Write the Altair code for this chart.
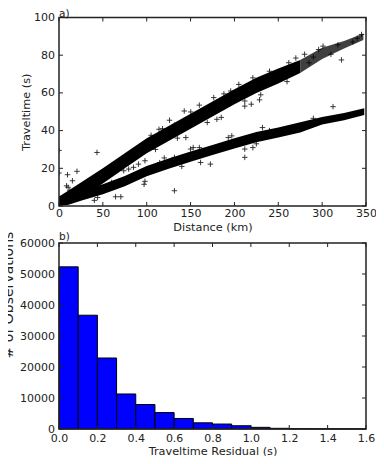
import altair as alt
import pandas as pd

FONT = "DejaVu Sans"
INK = "#222222"

# ---------------- panel a) : traveltime vs distance ----------------
# dense upper band (edges)
upper_dist = [0, 10, 25, 50, 75, 100, 125, 150, 175, 200, 225, 250, 275]
upper_lo = [0, 1, 4.5, 12, 20, 28, 34.5, 41, 47.5, 54, 60, 65, 70.5]
upper_hi = [5, 8, 12.5, 20, 28, 36, 42.5, 49, 55.5, 62, 68, 73, 77.5]
# sparser far end of the upper band
tail_dist = [275, 300, 325, 347]
tail_lo = [70.5, 78, 83.5, 88]
tail_hi = [77.5, 84, 87.5, 91.5]
# dense lower band
lower_dist = [0, 10, 25, 50, 75, 100, 125, 150, 175, 200, 225, 250, 275, 300, 325, 348]
lower_lo = [0, 0.5, 2.8, 6.2, 10.5, 15.8, 19.8, 23.5, 27, 30.5, 33.8, 36.3, 39, 43.2, 45.5, 48.3]
lower_hi = [4.4, 5.9, 8.2, 11.6, 15.9, 21.2, 25.2, 28.9, 32.4, 35.9, 39.2, 41.7, 44.4, 47.2, 49.3, 51.8]
# scattered individual picks (outliers and fuzzy band edges)
scatter_dist = [0, 0, 43.3, 9.7, 20.5, 15.3, 10.4, 12.3, 8.6, 64.5, 70.5, 40.3, 44,
                114, 98, 90.6, 85, 79.4, 73.8, 98, 114.8, 97, 131.6,
                142.8, 150.2, 126, 131.6, 144.6, 169, 180, 153, 150, 161.4, 172.6, 131.6,
                221, 211.8, 219.2, 211.8, 195.7, 176.4, 228.6,
                193, 197, 211.8, 211.8, 221, 232,
                312.4, 322, 301, 344.9, 310, 290, 285, 335, 340, 318, 296,
                105, 118, 160, 188, 205, 240, 262, 270, 280,
                110, 135, 185, 230, 260,
                120, 160, 240, 290, 60, 140, 225]
scatter_time = [29.5, 17.5, 28.4, 16.6, 18.4, 13.4, 9.9, 8.1, 10.7, 4.9, 4.9, 3.0, 4.5,
                40.7, 24, 22.2, 20.5, 19.6, 18.7, 13.1, 23, 11.5, 8.1,
                50.4, 49.9, 45.5, 42.9, 36.3, 44.3, 46, 31, 30.2, 23.1, 22.2, 25.8,
                68, 55.7, 54, 53, 61, 57.5, 56.3,
                36.3, 37.2, 30.2, 25.8, 31, 41.6,
                52.7, 77.5, 84.8, 91, 80.5, 79, 76, 87, 89, 85.5, 83,
                37.5, 41, 53.5, 59.5, 64.5, 71.5, 76, 78.5, 80.5,
                30, 36, 47, 59, 66,
                25.5, 31, 40, 46.5, 12.5, 21, 33]
xa_ticks = [0, 50, 100, 150, 200, 250, 300, 350]
ya_ticks = [0, 20, 40, 60, 80, 100]

# ---------------- panel b) : residual histogram ----------------
bin_start = [0.0, 0.1, 0.2, 0.3, 0.4, 0.5, 0.6, 0.7, 0.8, 0.9, 1.0, 1.1, 1.2, 1.3, 1.4, 1.5]
bin_end = [0.1, 0.2, 0.3, 0.4, 0.5, 0.6, 0.7, 0.8, 0.9, 1.0, 1.1, 1.2, 1.3, 1.4, 1.5, 1.6]
counts = [52300, 36700, 22900, 11300, 7900, 5300, 3400, 2000, 1600, 1050, 530, 220, 120, 70, 40, 20]
xb_ticks = [0.0, 0.2, 0.4, 0.6, 0.8, 1.0, 1.2, 1.4, 1.6]
yb_ticks = [0, 10000, 20000, 30000, 40000, 50000, 60000]

# ---------------- layout (pixels inside the drawing area) ----------------
W = 307
A_TOP, A_BOT = 0, 188.5
B_TOP, B_BOT = 225.5, 411.5
TOTAL_H = 438.5
TICK = 4

upper_df = pd.DataFrame({"d": upper_dist, "lo": upper_lo, "hi": upper_hi})
tail_df = pd.DataFrame({"d": tail_dist, "lo": tail_lo, "hi": tail_hi})
lower_df = pd.DataFrame({"d": lower_dist, "lo": lower_lo, "hi": lower_hi})
scat_df = pd.DataFrame({"d": scatter_dist, "t": scatter_time})
xa_df = pd.DataFrame({"d": xa_ticks})
ya_df = pd.DataFrame({"t": ya_ticks})
one = pd.DataFrame({"k": [0]})

axis_common = dict(domain=False, ticks=False, tickSize=0, grid=False,
                   labelFlush=False, labelBound=False, labelOverlap=False)

xa_axis = alt.Axis(values=xa_ticks, title="Distance (km)", orient="bottom",
                   offset=-(TOTAL_H - A_BOT), labelPadding=1.5,
                   titleY=24, titleBaseline="alphabetic", **axis_common)
ya_axis = alt.Axis(values=ya_ticks, title="Traveltime (s)", orient="left", labelPadding=4.5,
                   titleX=-28, titleY=(A_TOP + A_BOT) / 2, titleBaseline="bottom",
                   **axis_common)
xa_scale = alt.Scale(domain=[0, 350], nice=False, zero=False)
ya_scale = alt.Scale(domain=[0, 100], nice=False, zero=False, range=[A_BOT, A_TOP])


def xa(field="d"):
    return alt.X(f"{field}:Q", scale=xa_scale, axis=xa_axis)


def ya(field="t"):
    return alt.Y(f"{field}:Q", scale=ya_scale, axis=ya_axis)


band_up = alt.Chart(upper_df).mark_area(color="black").encode(
    x=xa(), y=ya("lo"), y2="hi:Q")
band_tail = alt.Chart(tail_df).mark_area(color="black", opacity=0.75).encode(
    x=xa(), y=ya("lo"), y2="hi:Q")
band_low = alt.Chart(lower_df).mark_area(color="black").encode(
    x=xa(), y=ya("lo"), y2="hi:Q")
cross = alt.Chart(scat_df).mark_point(
    shape="M-1,0L1,0M0,-1L0,1", size=30, filled=False, color="black",
    strokeWidth=0.9, opacity=0.85, clip=True).encode(x=xa(), y=ya())

rule_a = dict(color=INK, strokeWidth=1)
ticks_a = [
    alt.Chart(xa_df).mark_rule(**rule_a).encode(
        x=xa(), y=alt.value(A_BOT), y2=alt.value(A_BOT - TICK)),
    alt.Chart(xa_df).mark_rule(**rule_a).encode(
        x=xa(), y=alt.value(A_TOP), y2=alt.value(A_TOP + TICK)),
    alt.Chart(ya_df).mark_rule(**rule_a).encode(
        y=ya(), x=alt.value(0), x2=alt.value(TICK)),
    alt.Chart(ya_df).mark_rule(**rule_a).encode(
        y=ya(), x=alt.value(W - TICK), x2=alt.value(W)),
]
frame_a = alt.Chart(one).mark_rect(filled=False, stroke=INK, strokeWidth=1.5).encode(
    x=alt.value(0), x2=alt.value(W), y=alt.value(A_TOP), y2=alt.value(A_BOT))
label_a = alt.Chart(one).mark_text(
    text="a)", align="left", baseline="alphabetic", font=FONT, fontSize=10.5,
    color=INK).encode(x=alt.value(0), y=alt.value(A_TOP - 1))

top = alt.layer(band_up, band_tail, band_low, cross, *ticks_a, frame_a, label_a)

hist_df = pd.DataFrame({"s": bin_start, "e": bin_end, "c": counts})
xb_df = pd.DataFrame({"s": xb_ticks})
yb_df = pd.DataFrame({"c": yb_ticks})

xb_axis = alt.Axis(values=xb_ticks, title="Traveltime Residual (s)", format=".1f",
                   orient="bottom", offset=-(TOTAL_H - B_BOT), labelPadding=3,
                   titleY=25, titleBaseline="alphabetic", **axis_common)
yb_axis = alt.Axis(values=yb_ticks, title="# of Observations", format="d", orient="left",
                   labelPadding=4.5, titleX=-44, titleY=B_TOP + 51.5, titleFontSize=14,
                   titleBaseline="bottom", **axis_common)
xb_scale = alt.Scale(domain=[0, 1.6], nice=False, zero=False)
yb_scale = alt.Scale(domain=[0, 60000], nice=False, range=[B_BOT, B_TOP])


def xb(field="s"):
    return alt.X(f"{field}:Q", scale=xb_scale, axis=xb_axis)


def yb(field="c"):
    return alt.Y(f"{field}:Q", scale=yb_scale, axis=yb_axis)


bars = alt.Chart(hist_df).mark_bar(color="#0000ff", stroke="black", strokeWidth=1).encode(
    x=xb(), x2="e:Q", y=yb(), y2=alt.datum(0))

ticks_b = [
    alt.Chart(xb_df).mark_rule(**rule_a).encode(
        x=xb(), y=alt.value(B_BOT), y2=alt.value(B_BOT - TICK)),
    alt.Chart(xb_df).mark_rule(**rule_a).encode(
        x=xb(), y=alt.value(B_TOP), y2=alt.value(B_TOP + TICK)),
    alt.Chart(yb_df).mark_rule(**rule_a).encode(
        y=yb(), x=alt.value(0), x2=alt.value(TICK)),
    alt.Chart(yb_df).mark_rule(**rule_a).encode(
        y=yb(), x=alt.value(W - TICK), x2=alt.value(W)),
]
frame_b = alt.Chart(one).mark_rect(filled=False, stroke=INK, strokeWidth=1.5).encode(
    x=alt.value(0), x2=alt.value(W), y=alt.value(B_TOP), y2=alt.value(B_BOT))
label_b = alt.Chart(one).mark_text(
    text="b)", align="left", baseline="alphabetic", font=FONT, fontSize=10.5,
    color=INK).encode(x=alt.value(0), y=alt.value(B_TOP - 3))

bottom = alt.layer(bars, *ticks_b, frame_b, label_b)

chart = alt.layer(top, bottom).resolve_scale(
    x="independent", y="independent"
).properties(
    width=W, height=TOTAL_H,
    autosize=alt.AutoSizeParams(type="none"),
    padding={"left": 51, "top": 9.5, "right": 10, "bottom": 0},
    background="white",
).configure_view(stroke="transparent").configure_axis(
    labelFont=FONT, labelFontSize=11, labelColor=INK,
    titleFont=FONT, titleFontSize=11.3, titleFontWeight="normal", titleColor=INK,
)

chart.save("out.html", embed_options={"renderer": "svg", "actions": False})
